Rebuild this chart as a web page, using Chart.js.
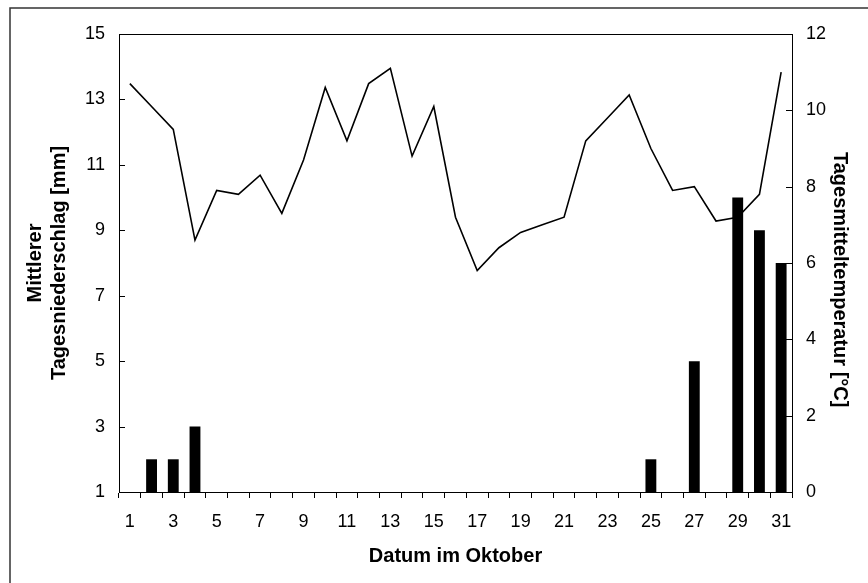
<!DOCTYPE html>
<html>
<head>
  <title>Niederschlag und Temperatur im Oktober</title>
  <script src="https://cdn.jsdelivr.net/npm/chart.js@4"></script>
  <style>
    body { margin: 0; background: #fff; }
  </style>
</head>
<body>
  <canvas id="chart" width="868" height="583"></canvas>

  <script>
    // Tage im Oktober
    const tage = [1, 2, 3, 4, 5, 6, 7, 8, 9, 10, 11, 12, 13, 14, 15, 16,
                  17, 18, 19, 20, 21, 22, 23, 24, 25, 26, 27, 28, 29, 30, 31];

    // Mittlerer Tagesniederschlag [mm] (null = kein Balken)
    const niederschlag = [null, 2, 2, 3, null, null, null, null, null, null, null, null, null, null, null, null,
                          null, null, null, null, null, null, null, null, 2, null, 5, null, 10, 9, 8];

    // Tagesmitteltemperatur [°C]
    const temperatur = [10.7, 10.1, 9.5, 6.6, 7.9, 7.8, 8.3, 7.3, 8.7, 10.6, 9.2, 10.7, 11.1, 8.8, 10.1, 7.2,
                        5.8, 6.4, 6.8, 7.0, 7.2, 9.2, 9.8, 10.4, 9.0, 7.9, 8.0, 7.1, 7.2, 7.8, 11.0];

    const schrift = 'Liberation Sans, Arial, sans-serif';

    // Rahmen um Diagramm, Innenstriche an den y-Achsen, Außenrahmen
    const rahmen = {
      id: 'rahmen',
      afterDraw(chart) {
        const { ctx, chartArea: a, scales } = chart;
        ctx.save();
        ctx.strokeStyle = '#000';
        ctx.lineWidth = 1;
        ctx.strokeRect(a.left + 0.5, a.top + 0.5, a.right - a.left, a.bottom - a.top);
        ctx.beginPath();
        scales.y.ticks.forEach(t => {
          const py = Math.round(scales.y.getPixelForValue(t.value)) + 0.5;
          ctx.moveTo(a.left, py);
          ctx.lineTo(a.left + 6, py);
        });
        scales.y1.ticks.forEach(t => {
          const py = Math.round(scales.y1.getPixelForValue(t.value)) + 0.5;
          ctx.moveTo(a.right - 6, py);
          ctx.lineTo(a.right, py);
        });
        ctx.stroke();
        ctx.strokeStyle = '#333';
        ctx.lineWidth = 1.5;
        ctx.strokeRect(10, 8, 1000, 1000);
        ctx.restore();
      }
    };

    new Chart(document.getElementById('chart'), {
      type: 'bar',
      data: {
        labels: tage,
        datasets: [
          {
            type: 'line',
            label: 'Tagesmitteltemperatur',
            data: temperatur,
            yAxisID: 'y1',
            borderColor: '#000',
            borderWidth: 1.6,
            pointRadius: 0,
            tension: 0,
            order: 0
          },
          {
            label: 'Niederschlag',
            data: niederschlag,
            yAxisID: 'y',
            backgroundColor: '#000',
            barPercentage: 0.5,
            categoryPercentage: 1,
            order: 1
          }
        ]
      },
      options: {
        responsive: false,
        animation: false,
        layout: { padding: { top: 34, left: 0, right: 0, bottom: 0 } },
        plugins: { legend: { display: false }, tooltip: { enabled: false } },
        scales: {
          x: {
            afterFit: s => { s.height = 91; },
            grid: { display: true, drawOnChartArea: false, drawTicks: true, tickLength: 6, color: '#000' },
            border: { display: true, color: '#000' },
            ticks: {
              autoSkip: false,
              maxRotation: 0,
              padding: 13,
              color: '#000',
              font: { family: schrift, size: 18 },
              callback: (v, i) => (i % 2 === 0 ? String(tage[i]) : '')
            },
            title: {
              display: true,
              text: 'Datum im Oktober',
              color: '#000',
              font: { family: schrift, size: 20, weight: 'bold' },
              padding: { top: 0, bottom: 15 }
            }
          },
          y: {
            position: 'left',
            min: 1,
            max: 15,
            afterFit: s => { s.width = 119; },
            grid: { display: false },
            border: { display: true, color: '#000' },
            ticks: {
              stepSize: 2,
              padding: 6,
              color: '#000',
              font: { family: schrift, size: 18 }
            },
            title: {
              display: true,
              text: ['Mittlerer', 'Tagesniederschlag [mm]'],
              color: '#000',
              font: { family: schrift, size: 20, weight: 'bold' },
              padding: { top: 23, bottom: 0 }
            }
          },
          y1: {
            position: 'right',
            min: 0,
            max: 12,
            afterFit: s => { s.width = 76; },
            grid: { display: false },
            border: { display: true, color: '#000' },
            ticks: {
              stepSize: 2,
              padding: 6,
              color: '#000',
              font: { family: schrift, size: 18 }
            },
            title: {
              display: true,
              text: '      Tagesmitteltemperatur [°C]',
              color: '#000',
              font: { family: schrift, size: 20, weight: 'bold' },
              padding: { top: 16, bottom: 0 }
            }
          }
        }
      },
      plugins: [rahmen]
    });
  </script>
</body>
</html>
